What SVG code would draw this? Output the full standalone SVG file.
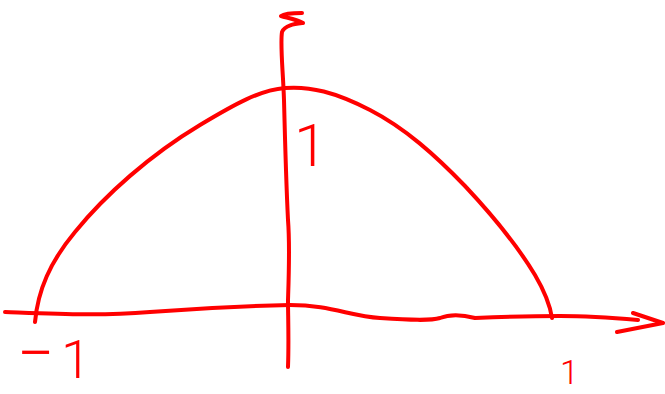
<svg xmlns="http://www.w3.org/2000/svg" width="665" height="394" viewBox="0 0 665 394">
<style>
.ink{fill:none;stroke:#ff0000;stroke-width:4;stroke-linecap:round;stroke-linejoin:round}
.lbl{fill:#ff0000;font-family:Roboto,"Liberation Sans",Arial,sans-serif;font-weight:300}
</style>
<rect width="665" height="394" fill="#ffffff"/>
<g id="x-axis">
<path class="ink" d="M5,312 C60,314 100,316 150,312 C200,308 240,306 290,305 C330,305 350,316 380,318 C410,320 430,321 440,318 C450,314 460,314 475,318 C500,317 530,316 560,316 C590,316 615,318 638,320"/>
<path class="ink" d="M633,313 L663,323 L617,332"/>
</g>
<g id="y-axis">
<path class="ink" d="M288,367 C289,340 288,315 288,300 C289,270 290,245 288,220 C286,180 285,140 284,100 C283,70 280,45 282,32 C285,25 295,24 303,23 C298,20 288,18 281,16 C285,13 295,13 302,13"/>
</g>
<g id="curve">
<path class="ink" d="M35,322 C38,290 50,262 75,232 C105,195 150,155 200,125 C235,104 260,90 285,88 C310,86 335,92 370,110 C405,128 435,155 465,186 C495,218 520,250 535,275 C545,292 550,305 552,318"/>
</g>
<g id="labels">
<text class="lbl" x="294" y="166" font-size="60">1</text>
<text class="lbl"><tspan x="17" y="376" font-size="66">−</tspan><tspan x="61" y="378" font-size="54">1</tspan></text>
<text class="lbl" x="560" y="384" font-size="34">1</text>
</g>
</svg>
